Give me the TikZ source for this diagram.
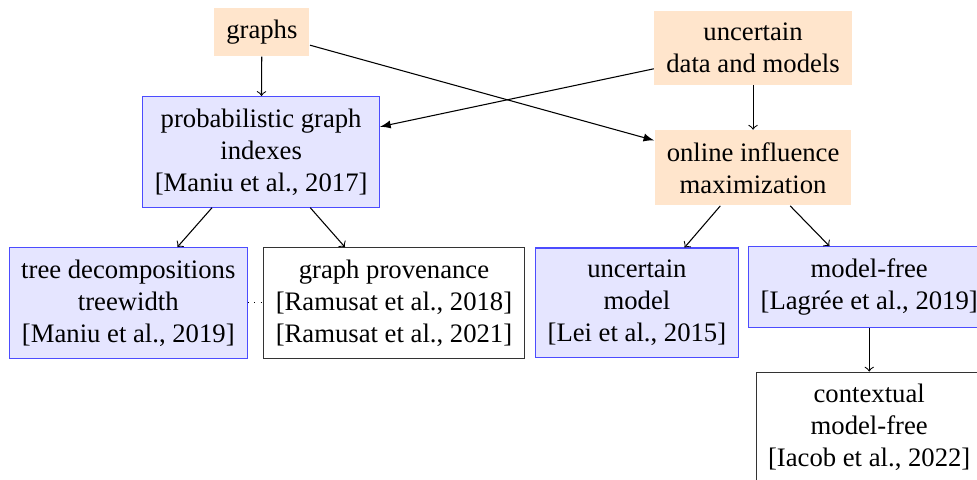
\documentclass[tikz,border=0pt]{standalone}
\usepackage{fontspec}
\setmainfont{Liberation Serif}
\usepackage{tikz}
\usetikzlibrary{arrows}

\tikzset{
  topic/.style={fill=orange!20, align=center, inner sep=4.5pt},
  work/.style={draw=blue!70, fill=blue!10, align=center, inner sep=4.5pt},
  other/.style={draw=black!80, align=center, inner sep=4.5pt}
}

\begin{document}
\begin{tikzpicture}[>=to]
				\useasboundingbox (0,0) rectangle (12.87,-6.31);
				\node[topic] (graphs) at (3.45,-0.42) {graphs};
				\node[topic] (uncertain) at (9.92,-0.63) {uncertain\\data and models};
				\node[work] (probindex) at (3.44,-2.00) {probabilistic graph\\indexes\\{[Maniu et al., 2017]}};
				\node[topic] (oim) at (9.92,-2.21) {online influence\\maximization};
				\node[work] (treedec) at (1.69,-3.99) {tree decompositions\\treewidth\\{[Maniu et al., 2019]}};
				\node[other] (prov) at (5.19,-3.99) {graph provenance\\{[Ramusat et al., 2018]}\\{[Ramusat et al., 2021]}};
				\node[work] (umodel) at (8.39,-3.99) {uncertain\\model\\{[Lei et al., 2015]}};
				\node[work] (mfree) at (11.45,-3.78) {model-free\\{[Lagrée et al., 2019]}};
				\node[other] (context) at (11.45,-5.63) {contextual\\model-free\\{[Iacob et al., 2022]}};
				\draw[->] (graphs) -- (probindex);
				\draw[-latex] (graphs) -- (oim);
				\draw[-latex] (uncertain) -- (probindex);
				\draw[->] (uncertain) -- (oim);
				\draw[->] (probindex) -- (treedec);
				\draw[->] (probindex) -- (prov);
				\draw[->] (oim) -- (umodel);
				\draw[->] (oim) -- (mfree);
				\draw[->] (mfree) -- (context);
				\draw[dotted] (treedec) -- (prov);
			\end{tikzpicture}
\end{document}
